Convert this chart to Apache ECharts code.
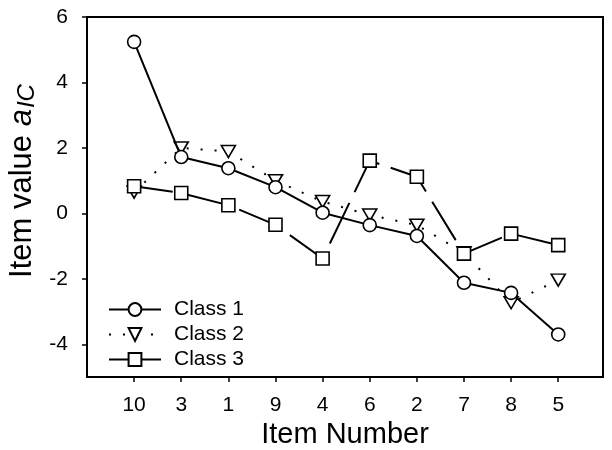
<!DOCTYPE html>
<html lang="en">
	<head>
		<meta charset="UTF-8">
		<title>Item values by class</title>
		<style>
			body { margin: 0; background: #fff; }
		</style>
	</head>

	<body>
		<div id="main" style="width: 612px;height:450px;"></div>

		<script type="text/javascript" src="https://cdn.jsdelivr.net/npm/echarts@6/dist/echarts.min.js"></script>
		<script type="text/javascript">
			// item order along the x axis
			var items = ['10', '3', '1', '9', '4', '6', '2', '7', '8', '5'];
			// item values
			var class1 = [5.24, 1.72, 1.38, 0.80, 0.02, -0.36, -0.69, -2.12, -2.43, -3.70];
			var class2 = [0.65, 2.00, 1.89, 1.00, 0.36, -0.05, -0.36, -1.20, -2.73, -2.04];
			var class3 = [0.83, 0.62, 0.25, -0.35, -1.38, 1.61, 1.12, -1.23, -0.62, -0.97];
			var yTicks = [-4, -2, 0, 2, 4, 6];

			var font = 'Liberation Sans, Arial, sans-serif';
			var xPos = items.map(function (d, i) { return i + 1; });

			function pairs(vals) {
				return vals.map(function (v, i) { return [i + 1, v]; });
			}

			var myChart = echarts.init(document.getElementById('main'));

			var markStyle = {
				color: '#fff',
				borderColor: '#000',
				borderWidth: 1.6
			};

			option = {
				backgroundColor: '#fff',
				animation: false,
				grid: {
					left: 87,
					top: 17,
					right: 9,
					bottom: 73,
					outerBoundsMode: 'none',
					show: true,
					borderColor: '#000',
					borderWidth: 2
				},
				legend: {
					orient: 'vertical',
					left: 108,
					top: 299,
					padding: 0,
					itemWidth: 52,
					itemHeight: 16,
					itemGap: 4,
					textStyle: {
						fontFamily: font,
						fontSize: 21,
						color: '#000',
						padding: [0, 0, 0, 8]
					},
					data: [
						{ name: 'Class 1' },
						{ name: 'Class 2' },
						{ name: 'Class 3', lineStyle: { type: 'solid' } }
					]
				},
				xAxis: {
					type: 'value',
					min: 0,
					max: 10.95,
					name: 'Item Number',
					nameLocation: 'middle',
					nameGap: 43,
					nameTextStyle: {
						fontFamily: font,
						fontSize: 29,
						color: '#000'
					},
					axisLine: { onZero: false, lineStyle: { color: '#000', width: 2 } },
					axisTick: {
						customValues: xPos,
						length: 5,
						lineStyle: { color: '#000', width: 1.5 }
					},
					axisLabel: {
						customValues: xPos,
						margin: 18,
						fontFamily: font,
						fontSize: 21,
						color: '#000',
						formatter: function (v) { return items[v - 1]; }
					},
					splitLine: { show: false }
				},
				yAxis: {
					type: 'value',
					min: -5,
					max: 6,
					axisLine: { onZero: false, lineStyle: { color: '#000', width: 2 } },
					axisTick: {
						customValues: yTicks,
						length: 5,
						lineStyle: { color: '#000', width: 1.5 }
					},
					axisLabel: {
						customValues: yTicks,
						margin: 19,
						fontFamily: font,
						fontSize: 21,
						color: '#000'
					},
					splitLine: { show: false }
				},
				graphic: [{
					type: 'text',
					x: 22,
					y: 181,
					rotation: Math.PI / 2,
					style: {
						text: 'Item value {a|a}{s|IC}',
						fontFamily: font,
						fontSize: 31,
						fill: '#000',
						align: 'center',
						verticalAlign: 'middle',
						rich: {
							a: { fontFamily: font, fontSize: 31, fontStyle: 'italic', fill: '#000' },
							s: { fontFamily: font, fontSize: 24, fontStyle: 'italic', fill: '#000', padding: [10, 0, 0, 1] }
						}
					}
				}],
				series: [
					{
						name: 'Class 2',
						type: 'line',
						data: pairs(class2),
						symbol: 'triangle',
						symbolRotate: 180,
						symbolSize: [14, 12],
						z: 2,
						lineStyle: { color: '#000', width: 2, type: [2, 12] },
						itemStyle: markStyle
					},
					{
						name: 'Class 1',
						type: 'line',
						data: pairs(class1),
						symbol: 'circle',
						symbolSize: 13,
						z: 3,
						lineStyle: { color: '#000', width: 2 },
						itemStyle: markStyle
					},
					{
						name: 'Class 3',
						type: 'line',
						data: pairs(class3),
						symbol: 'rect',
						symbolSize: 13,
						z: 4,
						lineStyle: { color: '#000', width: 2, type: [45, 12], dashOffset: 6 },
						itemStyle: markStyle
					}
				]
			};

			myChart.setOption(option);
		</script>
	</body>
</html>
